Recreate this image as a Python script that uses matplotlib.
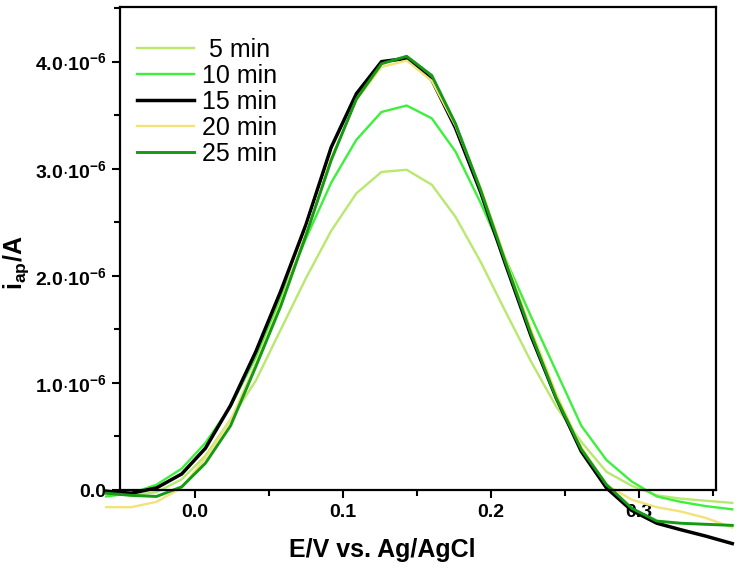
import numpy as np
import matplotlib
matplotlib.use("Agg")
import matplotlib.pyplot as plt
from matplotlib.ticker import MultipleLocator, FixedLocator, FixedFormatter

plt.rcParams['font.family'] = ['Liberation Sans', 'DejaVu Sans']
plt.rcParams['mathtext.fontset'] = 'custom'
plt.rcParams['mathtext.rm'] = 'Liberation Sans'
plt.rcParams['mathtext.bf'] = 'Liberation Sans:bold'
plt.rcParams['mathtext.it'] = 'Liberation Sans:italic'

# potential (V vs Ag/AgCl)
potential = [-0.060, -0.043, -0.026, -0.009, 0.007, 0.024, 0.041, 0.058, 0.075,
             0.092, 0.109, 0.126, 0.143, 0.160, 0.176, 0.193, 0.210, 0.227,
             0.244, 0.261, 0.278, 0.295, 0.312, 0.328, 0.345, 0.363]

# peak current in units of 1e-6 A
i_5min = [-0.03, -0.05, -0.02, 0.10, 0.32, 0.66, 1.02, 1.50, 1.98, 2.42, 2.77,
          2.97, 2.99, 2.85, 2.55, 2.13, 1.66, 1.20, 0.78, 0.45, 0.17, 0.04,
          -0.05, -0.08, -0.10, -0.12]
i_10min = [-0.06, -0.03, 0.05, 0.20, 0.44, 0.78, 1.24, 1.80, 2.35, 2.87, 3.27,
           3.53, 3.59, 3.47, 3.16, 2.68, 2.15, 1.62, 1.11, 0.60, 0.28, 0.08,
           -0.06, -0.11, -0.15, -0.18]
i_15min = [-0.01, -0.03, 0.02, 0.15, 0.39, 0.79, 1.29, 1.86, 2.48, 3.20, 3.70,
           4.00, 4.03, 3.83, 3.38, 2.78, 2.10, 1.44, 0.86, 0.36, 0.02, -0.19,
           -0.31, -0.37, -0.43, -0.50]
i_20min = [-0.16, -0.16, -0.11, 0.02, 0.30, 0.65, 1.18, 1.75, 2.40, 3.10, 3.64,
           3.95, 4.01, 3.82, 3.40, 2.82, 2.15, 1.50, 0.90, 0.40, 0.05, -0.09,
           -0.16, -0.20, -0.26, -0.35]
i_25min = [-0.03, -0.05, -0.06, 0.03, 0.25, 0.60, 1.15, 1.72, 2.38, 3.08, 3.65,
           3.98, 4.05, 3.87, 3.42, 2.80, 2.12, 1.46, 0.86, 0.38, 0.05, -0.17,
           -0.29, -0.31, -0.32, -0.33]

labels = [' 5 min', '10 min', '15 min', '20 min', '25 min']
series = [i_5min, i_10min, i_15min, i_20min, i_25min]
colors = ['#b9e86e', '#3cf03c', '#000000', '#f2e27a', '#149a14']
widths = [1.7, 1.7, 2.5, 1.7, 2.1]

fig = plt.figure(figsize=(7.38, 5.74), dpi=100)
ax = fig.add_axes([0.1626, 0.1463, 0.8076, 0.8415])

x = np.array(potential)
for y, lab, c, lw in zip(series, labels, colors, widths):
    ax.plot(x, np.array(y) * 1e-6, color=c, lw=lw, label=lab, clip_on=False)

ax.set_xlim(-0.0507, 0.352)
ax.set_ylim(0, 4.51e-6)

ax.xaxis.set_major_locator(MultipleLocator(0.1))
ax.xaxis.set_minor_locator(MultipleLocator(0.05))
ax.xaxis.set_major_formatter(plt.FuncFormatter(lambda v, p: f"{v:.1f}"))

yt = [0, 1e-6, 2e-6, 3e-6, 4e-6]
ax.yaxis.set_major_locator(FixedLocator(yt))
ax.yaxis.set_major_formatter(FixedFormatter(
    ['0.0'] + [r'$\mathbf{%d.0{\cdot}10^{-6}}$' % k for k in range(1, 5)]))
ax.yaxis.set_minor_locator(MultipleLocator(0.5e-6))

ax.tick_params(which='major', direction='out', length=6, width=1.5,
               labelsize=14, pad=4)
ax.tick_params(which='minor', direction='out', length=4, width=1.5)
for lbl in ax.get_xticklabels() + ax.get_yticklabels():
    lbl.set_fontweight('bold')

for sp in ax.spines.values():
    sp.set_linewidth(1.6)

ax.set_xlabel('E/V vs. Ag/AgCl', fontsize=18, fontweight='bold')
ax.xaxis.set_label_coords(0.44, -0.10)
ax.set_ylabel(r'$\mathbf{i_{ap}/A}$', fontsize=18)
ax.yaxis.set_label_coords(-0.149, 0.47)

ax.legend(loc='upper left', frameon=False, fontsize=18, handlelength=2.3,
          handletextpad=0.3, labelspacing=0.08, borderpad=0,
          borderaxespad=0, bbox_to_anchor=(0.028, 0.936))

fig.savefig('out.png', dpi=100)
